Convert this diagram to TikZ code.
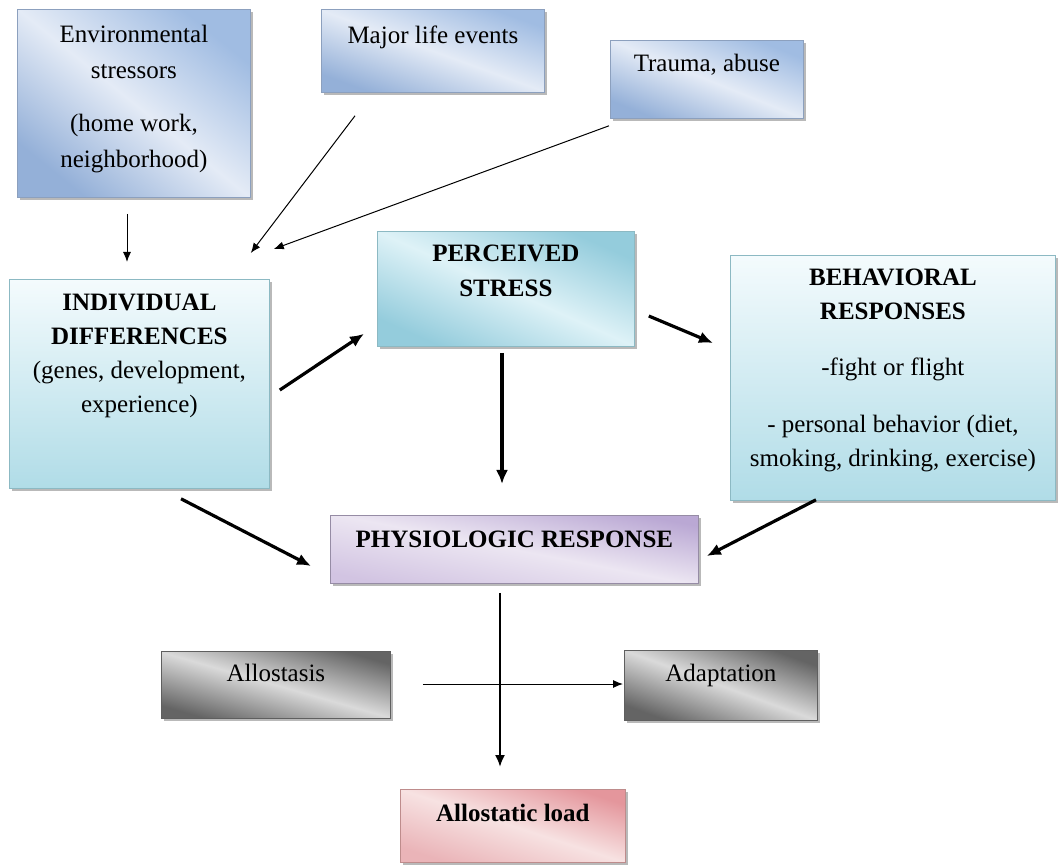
\documentclass[tikz,border=0pt]{standalone}
\usepackage{fontspec}
\setmainfont{Liberation Serif}
\usetikzlibrary{shadows,calc,arrows.meta}
\definecolor{bluedark}{RGB}{148,176,216}
\definecolor{bluelight}{RGB}{228,235,246}
\definecolor{bluemid}{RGB}{160,188,226}
\definecolor{blueedge}{RGB}{140,160,190}
\definecolor{cyantop}{RGB}{244,251,253}
\definecolor{cyanbot}{RGB}{176,220,231}
\definecolor{cyandark}{RGB}{148,204,220}
\definecolor{cyanlight}{RGB}{222,242,247}
\definecolor{cyanedge}{RGB}{140,185,195}
\definecolor{lavdark}{RGB}{186,168,212}
\definecolor{lavlight}{RGB}{236,230,242}
\definecolor{lavmid}{RGB}{210,196,226}
\definecolor{lavedge}{RGB}{150,140,165}
\definecolor{greydark}{RGB}{100,100,100}
\definecolor{greylight}{RGB}{218,218,218}
\definecolor{greyedge}{RGB}{95,95,95}
\definecolor{pinkdark}{RGB}{228,150,156}
\definecolor{pinklight}{RGB}{247,226,226}
\definecolor{pinkmid}{RGB}{234,180,184}
\definecolor{pinkedge}{RGB}{190,140,140}
\newcommand{\boxcontent}[4]{\begin{minipage}[c][#2][t]{#1}\centering\vspace*{#3}\rule{0pt}{20pt}#4\end{minipage}}
\begin{document}
\begin{tikzpicture}[x=1pt,y=-1pt,
  font=\fontsize{25}{36}\selectfont,
  basebox/.style={rectangle,inner sep=0pt,anchor=north west,line width=0.8pt,
    drop shadow={shadow xshift=2.5pt,shadow yshift=-3pt,fill=black!50,opacity=0.55}},
  bluebox/.style={basebox,draw=blueedge,left color=bluedark,right color=bluemid,middle color=bluelight,shading angle=#1},
  cyanbox/.style={basebox,draw=cyanedge,top color=cyantop,bottom color=cyanbot},
  cyanbox2/.style={basebox,draw=cyanedge,left color=cyandark,right color=cyandark,middle color=cyanlight,shading angle=#1},
  lavbox/.style={basebox,draw=lavedge,left color=lavmid,right color=lavdark,middle color=lavlight,shading angle=#1},
  greybox/.style={basebox,draw=greyedge,left color=greydark,right color=greydark,middle color=greylight,shading angle=#1},
  pinkbox/.style={basebox,draw=pinkedge,left color=pinkmid,right color=pinkdark,middle color=pinklight,shading angle=#1},
  thinarrow/.style={-{Latex[length=10pt,width=8pt]},line width=1pt},
  medarrow/.style={-{Latex[length=12pt,width=10pt]},line width=2pt},
  thickarrow/.style={-{Latex[length=14pt,width=12pt]},line width=3.2pt}
]
\useasboundingbox (0,0) rectangle (1058,866);
\node[bluebox=141] (env) at (17,9) {\boxcontent{233pt}{188pt}{13pt}{Environmental\\stressors\\[17pt](home work,\\neighborhood)}};
\node[bluebox=160] (major) at (321,9) {\boxcontent{223pt}{83pt}{14pt}{Major life events}};
\node[bluebox=158] (trauma) at (610,40) {\boxcontent{193pt}{78pt}{11pt}{Trauma, abuse}};
\node[cyanbox] (ind) at (9,279) {\boxcontent{260pt}{209pt}{11pt}{\fontsize{25}{34}\selectfont\bfseries INDIVIDUAL\\DIFFERENCES\\\normalfont(genes, development,\\experience)}};
\node[cyanbox2=156] (per) at (377,231) {\boxcontent{257pt}{115pt}{10pt}{\fontsize{25}{35}\selectfont\bfseries PERCEIVED\\STRESS}};
\node[cyanbox] (beh) at (730,255) {\boxcontent{325pt}{245pt}{10pt}{\fontsize{25}{34}\selectfont\bfseries BEHAVIORAL\\RESPONSES\\[22pt]\normalfont -fight or flight\\[23pt]- personal behavior (diet,\\smoking, drinking, exercise)}};
\node[lavbox=169] (phys) at (330,515) {\boxcontent{368pt}{68pt}{12pt}{\bfseries PHYSIOLOGIC RESPONSE}};
\node[greybox=164] (allo) at (161,651) {\boxcontent{229pt}{67pt}{10pt}{Allostasis}};
\node[greybox=160] (adapt) at (624,650) {\boxcontent{193pt}{70pt}{11pt}{Adaptation}};
\node[pinkbox=162] (load) at (400,789) {\boxcontent{225pt}{73pt}{12pt}{\bfseries Allostatic load}};
\draw[thinarrow] ($(env.south west)+(110,16)$) -- ($(ind.north west)+(118,-17)$);
\draw[thinarrow] ($(major.south west)+(34,23)$) -- ($(ind.north east)+(-19,-26)$);
\draw[thinarrow] ($(trauma.south west)+(-1,7)$) -- ($(ind.north east)+(4,-30)$);
\draw[thickarrow] ($(ind.north east)+(10,111)$) -- ($(per.south west)+(-13,-13)$);
\draw[thickarrow] ($(per.north east)+(14,85)$) -- ($(beh.north west)+(-17,88)$);
\draw[thickarrow] ($(per.south west)+(125,6)$) -- ($(phys.north west)+(172,-31)$);
\draw[thickarrow] ($(ind.south west)+(172,10)$) -- ($(phys.north west)+(-19,51)$);
\draw[thickarrow] ($(beh.south west)+(86,-1)$) -- ($(phys.north east)+(8,41)$);
\draw[medarrow] ($(phys.south west)+(170,9)$) -- ($(load.north west)+(100,-22)$);
\draw[thinarrow] ($(allo.north east)+(32,33)$) -- ($(adapt.north west)+(-1,34)$);
\end{tikzpicture}
\end{document}
